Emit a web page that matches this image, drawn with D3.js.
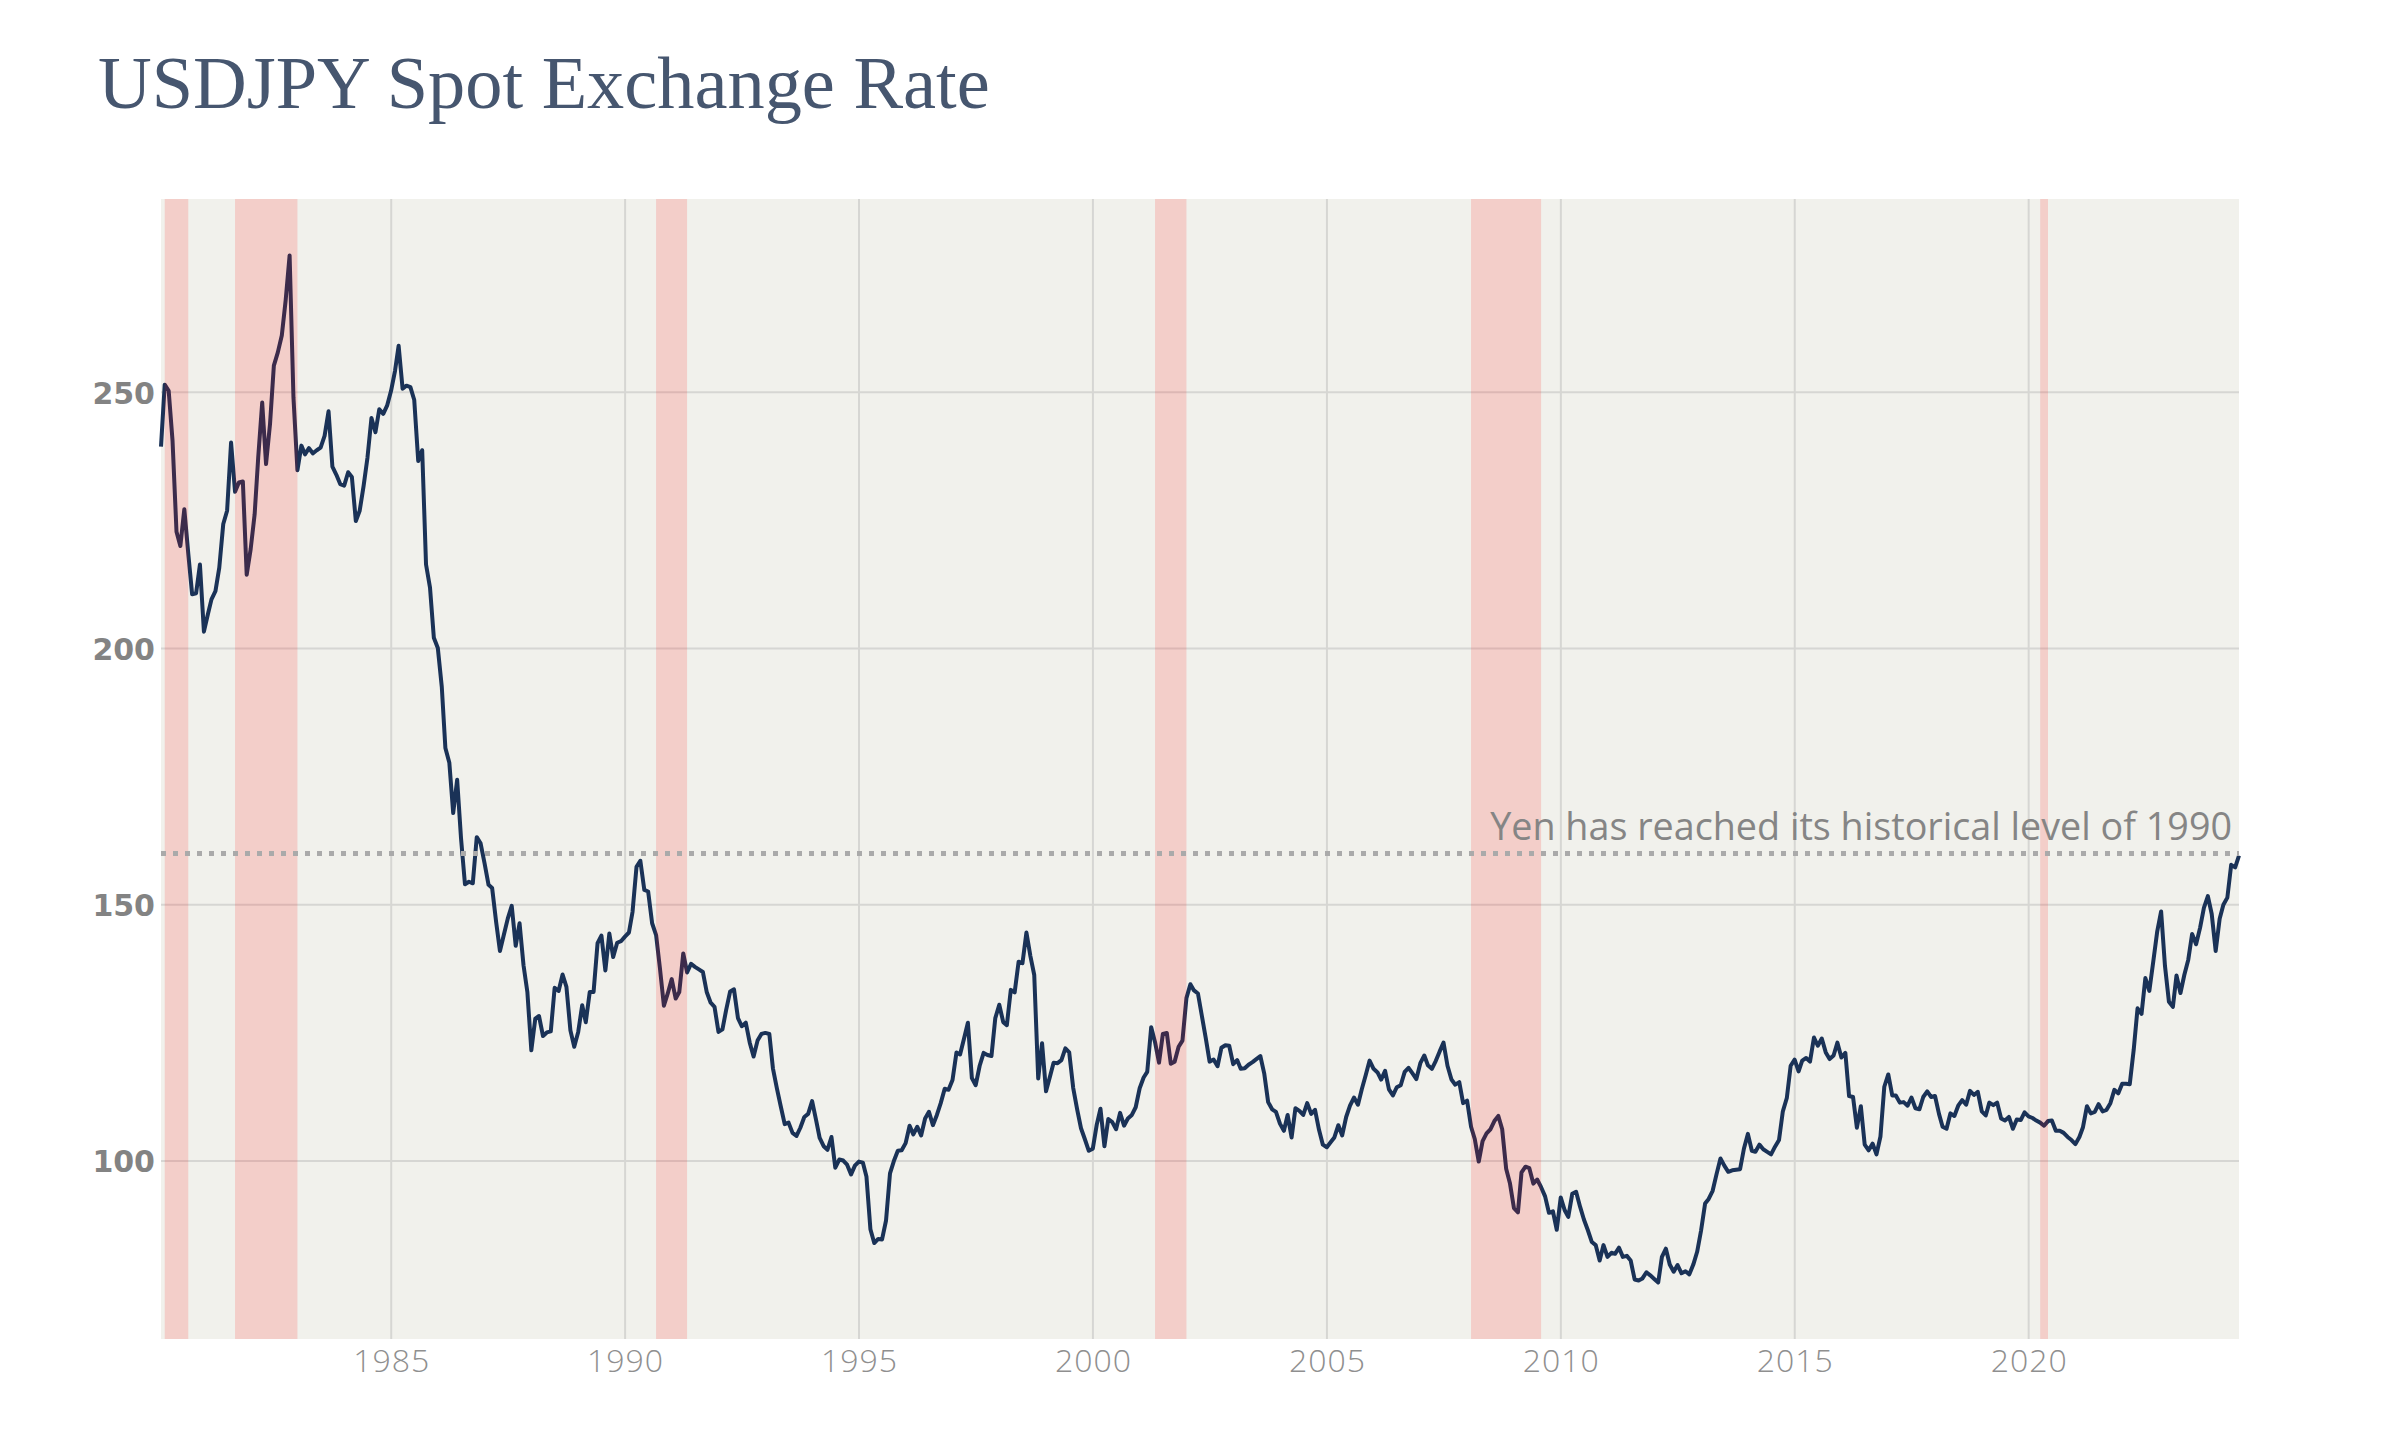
<!DOCTYPE html>
<html><head><meta charset="utf-8">
<script src="https://cdn.jsdelivr.net/npm/d3@7"></script>
<style>html,body{margin:0;padding:0;background:#ffffff;} svg{display:block;}</style>
</head><body><svg id="chart" width="2400" height="1440"></svg>
<script>
// ---- DATA (month-end USDJPY close, Jan 1980 .. Jun 2024) ----
const titleText = "USDJPY Spot Exchange Rate";
const annotationText = "Yen has reached its historical level of 1990";
const referenceLevel = 160;
const firstYear = 1980;

const rates1980s = [
  239.4, 251.5, 250.3, 240.6, 222.8, 220.0, 227.2, 218.5, 210.6, 210.8, 216.4, 203.3,
  206.7, 209.6, 211.2, 215.8, 224.3, 226.9, 240.2, 230.6, 232.4, 232.6, 214.4, 219.4,
  226.2, 237.3, 248.0, 236.0, 243.8, 255.2, 257.8, 261.1, 267.9, 276.7, 249.0, 234.8,
  239.6, 237.9, 239.1, 238.1, 238.7, 239.2, 241.5, 246.3, 235.5, 233.9, 232.1, 231.8,
  234.4, 233.5, 224.9, 226.9, 231.8, 237.3, 245.0, 242.2, 246.7, 245.8, 247.4, 250.3,
  254.2, 259.1, 250.7, 251.3, 251.0, 248.5, 236.6, 238.7, 216.4, 211.9, 202.1, 200.1,
  192.5, 180.6, 177.7, 167.9, 174.4, 163.0, 154.0, 154.5, 154.2, 163.2, 162.0, 158.1,
  153.9, 153.3, 146.7, 141.0, 144.2, 147.3, 149.8, 142.0, 146.4, 138.2, 133.0, 121.6,
  127.8, 128.3, 124.4, 125.1, 125.3, 133.8, 133.2, 136.4, 134.0, 125.5, 122.3, 125.2,
  130.4, 127.1, 133.0, 133.0, 142.5, 144.0, 137.2, 144.4, 139.8, 142.6, 142.9, 143.8
];
const rates1990s = [
  144.6, 148.6, 157.4, 158.6, 152.9, 152.6, 146.4, 144.1, 137.6, 130.3, 132.7, 135.5,
  131.7, 133.0, 140.5, 136.8, 138.5, 137.9, 137.4, 136.9, 133.0, 130.9, 130.1, 125.2,
  125.7, 129.5, 133.1, 133.5, 127.9, 126.3, 127.0, 123.1, 120.4, 123.5, 124.8, 125.0,
  124.8, 118.1, 114.2, 110.7, 107.2, 107.5, 105.5, 104.9, 106.5, 108.6, 109.2, 111.7,
  108.0, 104.5, 102.9, 102.2, 104.7, 98.7, 100.3, 100.1, 99.3, 97.4, 99.1, 99.9,
  99.7, 97.0, 86.7, 84.0, 84.8, 84.7, 88.4, 97.6, 100.0, 102.0, 102.1, 103.5,
  106.9, 105.2, 106.7, 105.0, 108.3, 109.6, 107.0, 109.0, 111.3, 114.1, 113.9, 115.8,
  121.2, 120.8, 123.9, 127.0, 116.2, 114.8, 118.6, 121.1, 120.7, 120.5, 127.9, 130.5,
  127.1, 126.5, 133.4, 132.9, 138.9, 138.6, 144.6, 140.0, 136.3, 116.1, 123.0, 113.6,
  116.5, 119.2, 119.1, 119.7, 122.0, 121.2, 114.3, 110.1, 106.4, 104.2, 102.0, 102.4
];
const rates2000s = [
  107.1, 110.2, 102.9, 108.2, 107.6, 106.2, 109.4, 106.9, 108.3, 109.0, 110.5, 114.2,
  116.3, 117.4, 126.1, 123.2, 119.2, 124.8, 125.0, 119.0, 119.4, 122.3, 123.5, 131.8,
  134.5, 133.3, 132.7, 128.4, 124.0, 119.4, 119.8, 118.5, 122.1, 122.6, 122.5, 118.9,
  119.7, 118.0, 118.1, 118.8, 119.3, 119.9, 120.5, 117.0, 111.5, 110.1, 109.6, 107.3,
  105.9, 109.0, 104.6, 110.3, 109.8, 109.0, 111.3, 109.2, 110.0, 106.1, 103.2, 102.7,
  103.7, 104.6, 107.0, 105.0, 108.6, 110.8, 112.4, 111.0, 114.0, 116.8, 119.6, 118.0,
  117.3, 115.9, 117.6, 114.0, 112.8, 114.4, 114.8, 117.4, 118.2, 117.1, 116.0, 119.1,
  120.6, 118.7, 118.0, 119.5, 121.4, 123.1, 118.6, 115.9, 114.9, 115.4, 111.3, 111.8,
  106.7, 104.3, 99.9, 103.9, 105.4, 106.2, 107.8, 108.8, 106.2, 98.5, 95.6, 90.8,
  90.0, 97.8, 98.9, 98.6, 95.6, 96.4, 94.9, 93.1, 89.9, 90.2, 86.6, 92.9
];
const rates2010s = [
  90.4, 89.1, 93.6, 94.0, 91.1, 88.6, 86.5, 84.2, 83.6, 80.6, 83.6, 81.3,
  82.1, 81.9, 83.1, 81.3, 81.5, 80.6, 76.9, 76.7, 77.1, 78.3, 77.7, 77.0,
  76.3, 81.3, 82.9, 79.8, 78.4, 79.7, 78.1, 78.5, 77.9, 79.8, 82.3, 86.5,
  91.7, 92.6, 94.2, 97.4, 100.5, 99.1, 97.9, 98.2, 98.3, 98.4, 102.4, 105.3,
  102.0, 101.8, 103.2, 102.3, 101.8, 101.3, 102.8, 104.1, 109.7, 112.3, 118.6, 119.8,
  117.5, 119.6, 120.1, 119.4, 124.1, 122.5, 123.9, 121.2, 119.9, 120.6, 123.1, 120.2,
  121.1, 112.7, 112.5, 106.5, 110.7, 103.2, 102.1, 103.4, 101.3, 104.8, 114.5, 116.9,
  112.8, 112.8, 111.4, 111.5, 110.8, 112.4, 110.3, 110.1, 112.5, 113.6, 112.5, 112.7,
  109.2, 106.7, 106.3, 109.3, 108.8, 110.8, 111.9, 111.0, 113.7, 112.9, 113.5, 109.7,
  108.9, 111.4, 110.9, 111.4, 108.3, 107.9, 108.6, 106.3, 108.1, 108.0, 109.5, 108.7
];
const rates2020s = [
  108.4, 107.9, 107.5, 106.9, 107.8, 107.9, 105.9, 105.9, 105.5, 104.7, 104.1, 103.3,
  104.7, 106.6, 110.7, 109.3, 109.6, 111.1, 109.7, 110.0, 111.3, 113.9, 113.2, 115.1,
  115.1, 115.0, 121.7, 129.8, 128.7, 135.7, 133.2, 139.0, 144.7, 148.7, 138.1, 131.1,
  130.1, 136.2, 132.8, 136.3, 139.3, 144.3, 142.3, 145.5, 149.4, 151.7, 148.2, 141.0,
  147.3, 150.0, 151.4, 157.8, 157.3, 159.6
];

// US recessions (first and last recession month)
const recessionStarts = ["1980-02", "1981-08", "1990-08", "2001-04", "2008-01", "2020-03"];
const recessionEnds   = ["1980-07", "1982-11", "1991-03", "2001-11", "2009-06", "2020-04"];

const yTicks = [100, 150, 200, 250];
const xTickYears = [1985, 1990, 1995, 2000, 2005, 2010, 2015, 2020];

// ---- BUILD ----
const values = [].concat(rates1980s, rates1990s, rates2000s, rates2010s, rates2020s);
const monthEnd = (y, m) => new Date(Date.UTC(y, m + 1, 0)); // m: 0-based month
const data = values.map((v, i) => ({ date: monthEnd(firstYear + Math.floor(i / 12), i % 12), value: v }));
const parseYM = s => { const [y, m] = s.split("-").map(Number); return { y, m: m - 1 }; };

const plot = { left: 161, right: 2239, top: 199, bottom: 1339 };

const svg = d3.select("#chart");

const x = d3.scaleUtc()
  .domain(d3.extent(data, d => d.date))
  .range([plot.left, plot.right]);
const vMin = d3.min(values), vMax = d3.max(values), pad = (vMax - vMin) * 0.055;
const y = d3.scaleLinear()
  .domain([vMin - pad, vMax + pad])
  .range([plot.bottom, plot.top]);

// plot background
svg.append("rect")
  .attr("x", plot.left).attr("y", plot.top)
  .attr("width", plot.right - plot.left).attr("height", plot.bottom - plot.top)
  .attr("fill", "#f1f1ec");

// gridlines
const grid = svg.append("g");
grid.selectAll("line.h").data(yTicks).join("line")
  .attr("x1", plot.left).attr("x2", plot.right)
  .attr("y1", d => y(d)).attr("y2", d => y(d))
  .attr("stroke", "#d6d6d3").attr("stroke-width", 2);
grid.selectAll("line.v").data(xTickYears).join("line")
  .attr("x1", d => x(new Date(Date.UTC(d, 0, 1)))).attr("x2", d => x(new Date(Date.UTC(d, 0, 1))))
  .attr("y1", plot.top).attr("y2", plot.bottom)
  .attr("stroke", "#d6d6d3").attr("stroke-width", 2);

// y axis labels
const yAxis = d3.axisLeft(y).tickValues(yTicks).tickSize(0).tickPadding(0).tickFormat(d3.format("d"));
const gy = svg.append("g").attr("transform", `translate(${plot.left - 6},0)`).call(yAxis);
gy.select(".domain").remove();
gy.selectAll("text")
  .attr("fill", "#838383")
  .attr("font-family", "'DejaVu Sans', sans-serif")
  .attr("font-weight", "bold")
  .attr("font-size", 30)
  .attr("letter-spacing", 0)
  .attr("dy", "0.36em");

// x axis labels
const xAxis = d3.axisBottom(x)
  .tickValues(xTickYears.map(yr => new Date(Date.UTC(yr, 0, 1))))
  .tickSize(0).tickPadding(0).tickFormat(d3.utcFormat("%Y"));
const gx = svg.append("g").attr("transform", `translate(0,${plot.bottom})`).call(xAxis);
gx.select(".domain").remove();
gx.selectAll("text")
  .attr("fill", "#8f8f8f")
  .attr("font-family", "'Open Sans', Lato, sans-serif")
  .attr("font-weight", 300)
  .attr("font-size", 32)
  .attr("letter-spacing", 1)
  .attr("y", 33)
  .attr("dy", 0);

// line
const line = d3.line().x(d => x(d.date)).y(d => y(d.value)).curve(d3.curveLinear);
svg.append("path")
  .datum(data)
  .attr("d", line)
  .attr("fill", "none")
  .attr("stroke", "#1a3257")
  .attr("stroke-width", 4)
  .attr("stroke-linejoin", "round");

// recession bands (on top, translucent)
const bands = recessionStarts.map((s, i) => {
  const a = parseYM(s), b = parseYM(recessionEnds[i]);
  return { x0: monthEnd(a.y, a.m), x1: monthEnd(b.y, b.m + 1) };
});
svg.append("g").selectAll("rect").data(bands).join("rect")
  .attr("x", d => x(d.x0)).attr("width", d => x(d.x1) - x(d.x0))
  .attr("y", plot.top).attr("height", plot.bottom - plot.top)
  .attr("fill", "#ff0a05").attr("fill-opacity", 0.15);

// reference dotted line
svg.append("line")
  .attr("x1", plot.left).attr("x2", plot.right)
  .attr("y1", y(referenceLevel)).attr("y2", y(referenceLevel))
  .attr("stroke", "#aaaaaa").attr("stroke-width", 5)
  .attr("stroke-dasharray", "5 7");

// annotation
const ann = svg.append("text")
  .attr("x", 2232).attr("y", 840)
  .attr("text-anchor", "end")
  .attr("fill", "#858585")
  .attr("font-family", "'Open Sans', Lato, sans-serif")
  .attr("font-size", 36)
  .text(annotationText);
{
  const w = ann.node().getComputedTextLength();
  ann.attr("font-size", 36 * 742 / w);
}

// title
const title = svg.append("text")
  .attr("x", 98).attr("y", 108)
  .attr("fill", "#46566f")
  .attr("font-family", "'Liberation Serif', 'DejaVu Serif', serif")
  .attr("font-size", 80)
  .text(titleText);
{
  const w = title.node().getComputedTextLength();
  title.attr("font-size", 80 * 892 / w);
}
</script>
</body></html>
